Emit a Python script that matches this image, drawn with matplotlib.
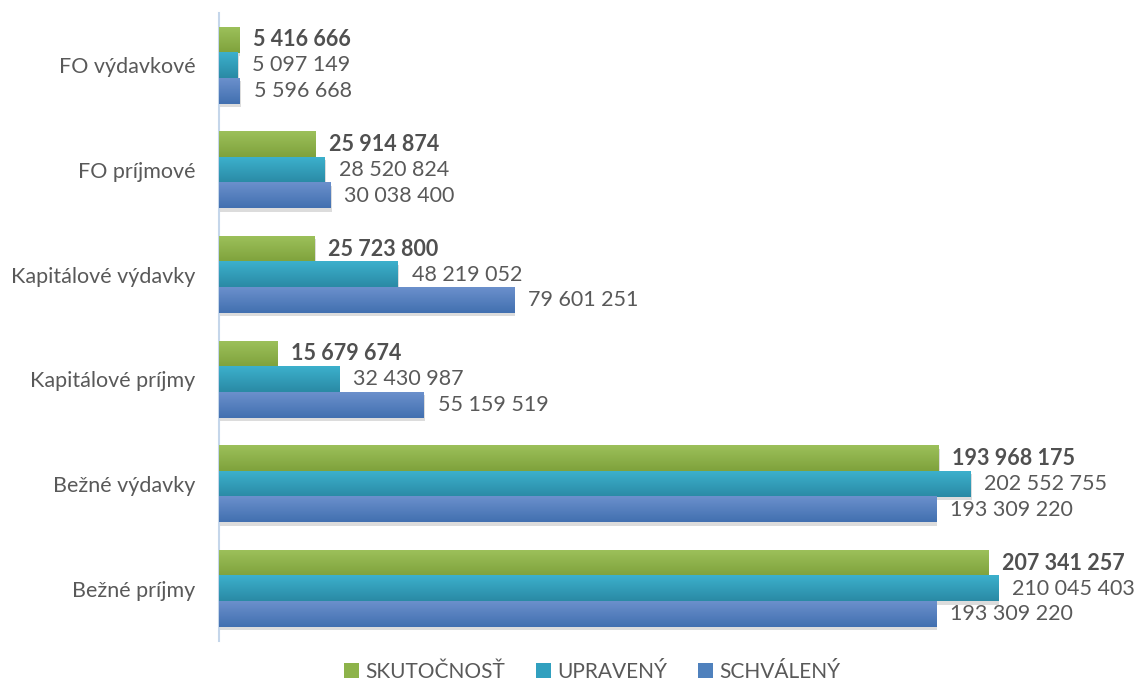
import numpy as np
import matplotlib.pyplot as plt
from matplotlib.colors import LinearSegmentedColormap

# data (bottom to top as drawn)
categories = ['Bežné príjmy', 'Bežné výdavky', 'Kapitálové príjmy',
              'Kapitálové výdavky', 'FO príjmové', 'FO výdavkové']
skutocnost = [207341257, 193968175, 15679674, 25723800, 25914874, 5416666]
upraveny = [210045403, 202552755, 32430987, 48219052, 28520824, 5097149]
schvaleny = [193309220, 193309220, 55159519, 79601251, 30038400, 5596668]
series_names = ['SKUTOČNOSŤ', 'UPRAVENÝ', 'SCHVÁLENÝ']

plt.rcParams['font.family'] = ['Lato', 'DejaVu Sans']
txt = '#595959'

fig = plt.figure(figsize=(11.39, 6.8), dpi=100)
ax = fig.add_axes([219 / 1139, 39 / 680, 1 - 219 / 1139, 628 / 680])

# (light top, dark bottom, legend color)
styles = [('#9cc05a', '#7fa23c', '#8db34a'),
          ('#3cb0cc', '#2a8aa5', '#31a0bf'),
          ('#6b90cc', '#4270b0', '#4f81bd')]
h = 0.245
y = np.arange(len(categories))
offsets = [h, 0, -h]

for vals, off, (light, dark, base), name in zip(
        [skutocnost, upraveny, schvaleny], offsets, styles, series_names):
    bars = ax.barh(y + off, vals, height=h, color=base, label=name, zorder=2)
    cmap = LinearSegmentedColormap.from_list('g', [dark, light])
    grad = np.linspace(0, 1, 50).reshape(-1, 1)
    for b in bars:
        x0, y0 = b.get_x(), b.get_y()
        # soft shadow below
        ax.barh(y0 + b.get_height() / 2 - 0.03, b.get_width(), left=x0 + 0.3e6,
                height=b.get_height(), color='#dcdcdc', zorder=1, linewidth=0)
        ax.imshow(grad, extent=[x0, x0 + b.get_width(), y0, y0 + b.get_height()],
                  origin='lower', aspect='auto', cmap=cmap, zorder=3)
    bold = name == 'SKUTOČNOSŤ'
    for yy, v in zip(y + off, vals):
        ax.annotate(f'{v:,}'.replace(',', ' '), (v, yy), xytext=(10, 0),
                    textcoords='offset points', va='center', ha='left',
                    fontsize=15.5, color=txt if not bold else '#505050',
                    fontweight='bold' if bold else 'normal')

ax.set_xlim(0, 248e6)
ax.set_ylim(-0.5, 5.5)
ax.set_yticks(y)
ax.set_yticklabels(categories, fontsize=15.5, color=txt)
ax.tick_params(axis='y', length=0, pad=17)
ax.set_xticks([])
for s in ['top', 'right', 'bottom']:
    ax.spines[s].set_visible(False)
ax.spines['left'].set_color('#c5d6ea')
ax.spines['left'].set_linewidth(1.5)

leg = fig.legend(loc='lower center', bbox_to_anchor=(0.52, -0.03), ncol=3,
                 frameon=False, fontsize=15, handlelength=0.7, handleheight=0.7,
                 handletextpad=0.3, columnspacing=1.5)
for t in leg.get_texts():
    t.set_color(txt)

fig.savefig('out.png', dpi=100)
